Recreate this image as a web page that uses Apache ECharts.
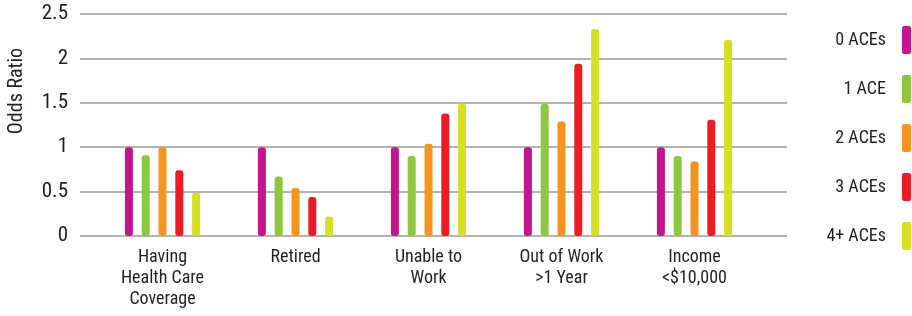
<!DOCTYPE html>
<html>
<head>
<meta charset="utf-8">
<script src="https://cdn.jsdelivr.net/npm/echarts@6/dist/echarts.min.js"></script>
<style>
  html, body { margin: 0; padding: 0; background: #fff; }
  #main { width: 912px; height: 316px; }
</style>
</head>
<body>
<div id="main"></div>
<script>
var categories = ['Having\nHealth Care\nCoverage', 'Retired', 'Unable to\nWork', 'Out of Work\n>1 Year', 'Income\n<$10,000'];
var seriesNames = ['0 ACEs', '1 ACE', '2 ACEs', '3 ACEs', '4+ ACEs'];
var ace0 = [1.00, 1.00, 1.00, 1.00, 1.00];
var ace1 = [0.91, 0.67, 0.90, 1.49, 0.90];
var ace2 = [1.00, 0.54, 1.04, 1.29, 0.84];
var ace3 = [0.74, 0.44, 1.38, 1.94, 1.31];
var ace4 = [0.49, 0.22, 1.49, 2.33, 2.21];
var colors = ['#c4168c', '#8dc63f', '#f7941d', '#ed1c24', '#d7df23'];

var myChart = echarts.init(document.getElementById('main'));
var font = '"Roboto Condensed", Roboto, sans-serif';

var values = [ace0, ace1, ace2, ace3, ace4];
var series = values.map(function (d, i) {
    return {
        name: seriesNames[i],
        type: 'bar',
        xAxisIndex: 1,
        yAxisIndex: 1,
        barWidth: 8,
        barGap: '110%',
        itemStyle: { color: colors[i], borderRadius: 3 },
        data: d
    };
});

var option = {
    backgroundColor: '#fff',
    animation: false,
    color: colors,
    grid: [
        { left: 80, right: 125, top: 14, bottom: 80 },   // gridlines
        { left: 96, right: 151, top: 14, bottom: 80 }    // bars
    ],
    legend: {
        orient: 'vertical',
        right: -4,
        top: 21,
        align: 'right',
        itemWidth: 9,
        itemHeight: 28,
        itemGap: 21,
        icon: 'roundRect',
        textStyle: { fontFamily: font, fontSize: 18, color: '#231f20', padding: [0, 11, 0, 0] },
        data: seriesNames
    },
    graphic: [{
        type: 'text',
        x: 17,
        y: 91,
        rotation: Math.PI / 2,
        style: {
            text: 'Odds Ratio',
            fontFamily: font,
            fontSize: 20,
            fill: '#231f20',
            align: 'center',
            verticalAlign: 'middle'
        }
    }],
    xAxis: [
        { type: 'category', gridIndex: 0, data: categories, show: false },
        {
            type: 'category',
            gridIndex: 1,
            data: categories,
            axisLine: { show: false },
            axisTick: { show: false },
            axisLabel: {
                margin: 11,
                fontFamily: font,
                fontSize: 18,
                lineHeight: 21,
                color: '#231f20'
            }
        }
    ],
    yAxis: [
        {
            type: 'value',
            gridIndex: 0,
            min: 0,
            max: 2.5,
            interval: 0.5,
            axisLine: { show: false },
            axisTick: { show: false },
            axisLabel: { margin: 12, fontFamily: font, fontSize: 21, color: '#231f20' },
            splitLine: { lineStyle: { color: '#9a9a9a', width: 1.5 } }
        },
        { type: 'value', gridIndex: 1, min: 0, max: 2.5, show: false, splitLine: { show: false } }
    ],
    series: series
};

myChart.setOption(option);
</script>
</body>
</html>
